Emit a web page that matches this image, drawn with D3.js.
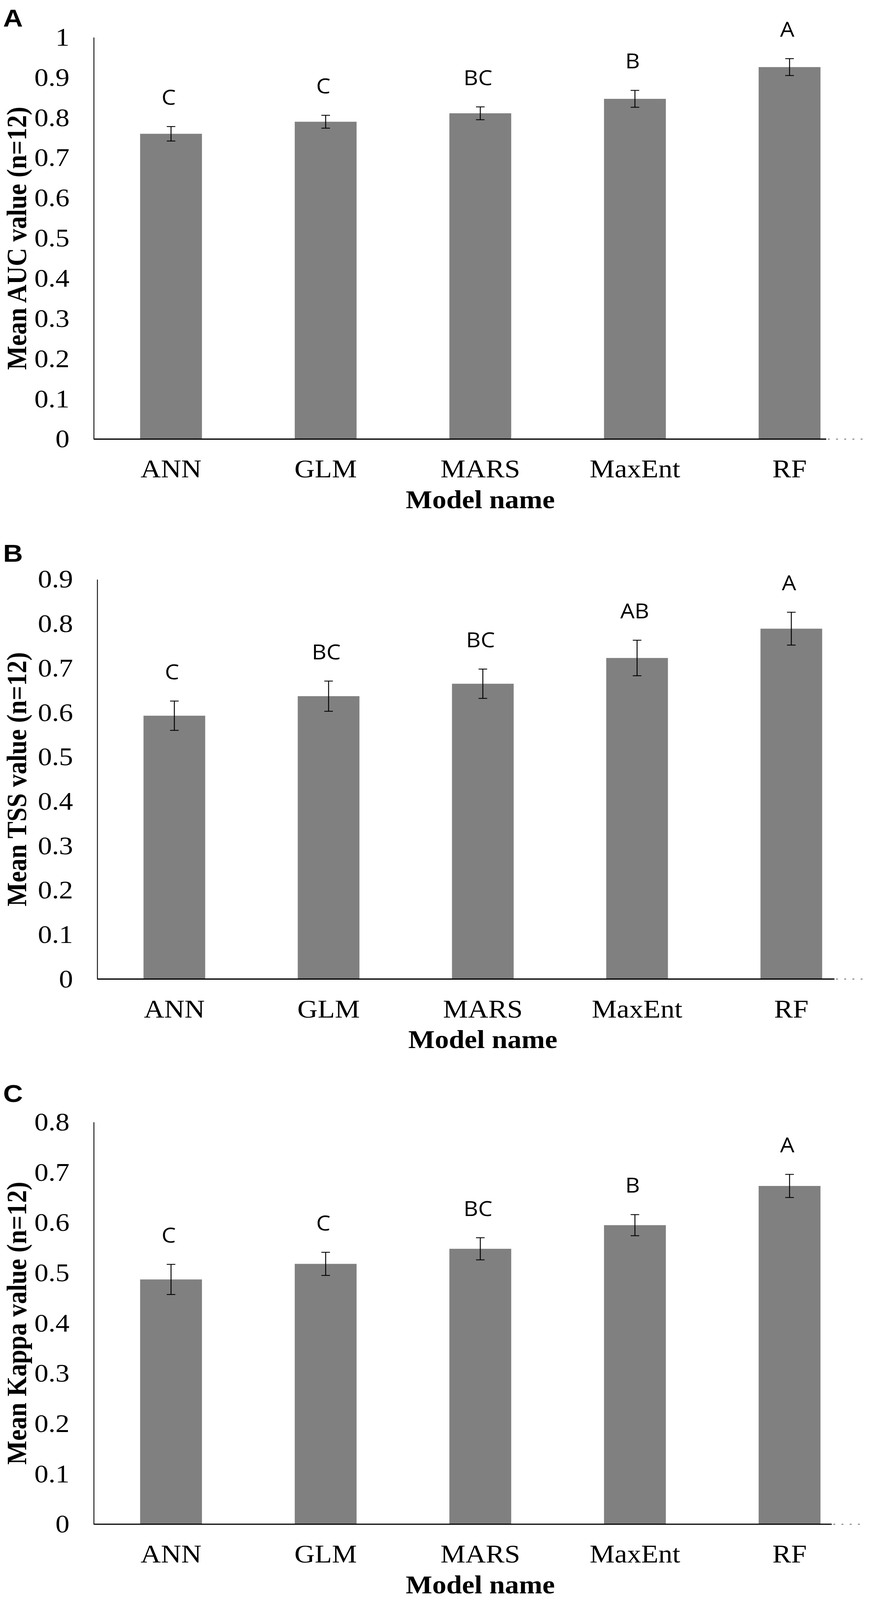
<!DOCTYPE html>
<html>
<head>
<meta charset="utf-8">
<script src="https://cdn.jsdelivr.net/npm/d3@7"></script>
<style>
  html, body { margin: 0; padding: 0; background: #ffffff; overflow: hidden; }
  svg { display: block; }
</style>
</head>
<body>
<div id="chart"></div>
<script>
// ---------------- DATA ----------------
const models = ["ANN", "GLM", "MARS", "MaxEnt", "RF"];

const aucMean   = [0.760, 0.790, 0.811, 0.847, 0.926];
const aucErr    = [0.018, 0.016, 0.016, 0.021, 0.021];
const aucGroups = ["C", "C", "BC", "B", "A"];
const aucTicks  = [0, 0.1, 0.2, 0.3, 0.4, 0.5, 0.6, 0.7, 0.8, 0.9, 1];

const tssMean   = [0.593, 0.637, 0.665, 0.723, 0.789];
const tssErr    = [0.033, 0.034, 0.033, 0.040, 0.037];
const tssGroups = ["C", "BC", "BC", "AB", "A"];
const tssTicks  = [0, 0.1, 0.2, 0.3, 0.4, 0.5, 0.6, 0.7, 0.8, 0.9];

const kappaMean   = [0.487, 0.518, 0.548, 0.595, 0.673];
const kappaErr    = [0.030, 0.023, 0.022, 0.021, 0.023];
const kappaGroups = ["C", "C", "BC", "B", "A"];
const kappaTicks  = [0, 0.1, 0.2, 0.3, 0.4, 0.5, 0.6, 0.7, 0.8];

const panelLetters = ["A", "B", "C"];
const yTitles = ["Mean AUC value (n=12)", "Mean TSS value (n=12)", "Mean Kappa value (n=12)"];
const xTitle = "Model name";

// ---------------- LAYOUT ----------------
const W = 2228, H = 4540;
const layouts = [
  { x0: 240, x1: 2220, yTop: 106,  yBottom: 1246, letterY: 75,   axisEnd: 2116, dotEnd: 2212 },
  { x0: 249, x1: 2224, yTop: 1644, yBottom: 2778, letterY: 1594, axisEnd: 2137, dotEnd: 2222 },
  { x0: 240, x1: 2220, yTop: 3184, yBottom: 4325, letterY: 3127, axisEnd: 2130, dotEnd: 2210 }
];

const panels = [
  { mean: aucMean,   err: aucErr,   groups: aucGroups,   ticks: aucTicks },
  { mean: tssMean,   err: tssErr,   groups: tssGroups,   ticks: tssTicks },
  { mean: kappaMean, err: kappaErr, groups: kappaGroups, ticks: kappaTicks }
];

const serif = "'Liberation Serif', 'Times New Roman', Times, serif";
const sans = "'Open Sans', 'Liberation Sans', Arial, sans-serif";

// fit the whole figure into the actual viewport
const vw = window.innerWidth || W;
const vh = window.innerHeight || H;

const svg = d3.select("#chart").append("svg")
  .attr("width", vw).attr("height", vh)
  .attr("viewBox", `0 0 ${W} ${H}`)
  .attr("preserveAspectRatio", "none");

svg.append("rect").attr("width", W).attr("height", H).attr("fill", "#ffffff");

const fmt = d => String(+d.toFixed(1));

panels.forEach((p, pi) => {
  const L = layouts[pi];
  const g = svg.append("g");

  const x = d3.scaleBand().domain(models).range([L.x0, L.x1]).paddingInner(0.6).paddingOuter(0.3);
  const yMax = p.ticks[p.ticks.length - 1];
  const y = d3.scaleLinear().domain([0, yMax]).range([L.yBottom, L.yTop]);

  const rows = models.map((m, i) => ({ m, v: p.mean[i], e: p.err[i], grp: p.groups[i] }));

  // Panel letter
  g.append("text")
    .attr("x", 8).attr("y", L.letterY)
    .attr("font-family", "'Liberation Sans', Arial, sans-serif")
    .attr("font-weight", "bold").attr("font-size", 70)
    .attr("fill", "#000").text(panelLetters[pi]);

  // Bars
  g.selectAll("rect.bar").data(rows).join("rect")
    .attr("class", "bar")
    .attr("x", d => x(d.m)).attr("width", x.bandwidth())
    .attr("y", d => y(d.v)).attr("height", d => y(0) - y(d.v))
    .attr("fill", "#808080");

  // Error bars
  const eb = g.selectAll("g.eb").data(rows).join("g").attr("class", "eb")
    .attr("stroke", "#000").attr("stroke-width", 2.4);
  eb.append("line")
    .attr("x1", d => x(d.m) + x.bandwidth() / 2).attr("x2", d => x(d.m) + x.bandwidth() / 2)
    .attr("y1", d => y(d.v - d.e)).attr("y2", d => y(d.v + d.e));
  eb.append("line")
    .attr("x1", d => x(d.m) + x.bandwidth() / 2 - 11).attr("x2", d => x(d.m) + x.bandwidth() / 2 + 11)
    .attr("y1", d => y(d.v + d.e)).attr("y2", d => y(d.v + d.e));
  eb.append("line")
    .attr("x1", d => x(d.m) + x.bandwidth() / 2 - 11).attr("x2", d => x(d.m) + x.bandwidth() / 2 + 11)
    .attr("y1", d => y(d.v - d.e)).attr("y2", d => y(d.v - d.e));

  // Significance letters
  g.selectAll("text.grp").data(rows).join("text")
    .attr("class", "grp")
    .attr("x", d => x(d.m) + x.bandwidth() / 2 - 6)
    .attr("y", d => y(d.v + d.e) - 62)
    .attr("text-anchor", "middle")
    .attr("font-family", sans).attr("font-size", 58)
    .attr("fill", "#000")
    .text(d => d.grp);

  // Y axis
  const yAxis = d3.axisLeft(y).tickValues(p.ticks).tickFormat(fmt).tickSize(0).tickPadding(62).tickSizeOuter(0);
  const ya = g.append("g").attr("transform", `translate(${L.x0},0)`).call(yAxis);
  ya.select(".domain").attr("stroke", "#000").attr("stroke-width", 2.2);
  ya.selectAll(".tick text")
    .attr("font-family", serif).attr("font-size", 72).attr("fill", "#000");

  // X axis (labels via axis, custom baseline line)
  const xAxis = d3.axisBottom(x).tickSize(0).tickPadding(0);
  const xa = g.append("g").attr("transform", `translate(0,${L.yBottom})`).call(xAxis);
  xa.select(".domain").remove();
  xa.selectAll(".tick text")
    .attr("y", 109).attr("dy", 0)
    .attr("font-family", serif).attr("font-size", 72).attr("fill", "#000");

  g.append("line")
    .attr("x1", L.x0).attr("x2", L.axisEnd)
    .attr("y1", y(0)).attr("y2", y(0))
    .attr("stroke", "#000").attr("stroke-width", 3.5);
  g.append("line")
    .attr("x1", L.axisEnd + 4).attr("x2", L.dotEnd)
    .attr("y1", y(0)).attr("y2", y(0))
    .attr("stroke", "#8a8a8a").attr("stroke-width", 3)
    .attr("stroke-dasharray", "5,16");

  // Y title
  g.append("text")
    .attr("transform", `translate(67,${(L.yTop + L.yBottom) / 2}) rotate(-90)`)
    .attr("text-anchor", "middle")
    .attr("font-family", serif).attr("font-weight", "bold").attr("font-size", 72)
    .attr("fill", "#000")
    .text(yTitles[pi]);

  // X title
  g.append("text")
    .attr("x", (L.x0 + L.x1) / 2).attr("y", L.yBottom + 196)
    .attr("text-anchor", "middle")
    .attr("font-family", serif).attr("font-weight", "bold").attr("font-size", 72)
    .attr("fill", "#000")
    .text(xTitle);
});
</script>
</body>
</html>
